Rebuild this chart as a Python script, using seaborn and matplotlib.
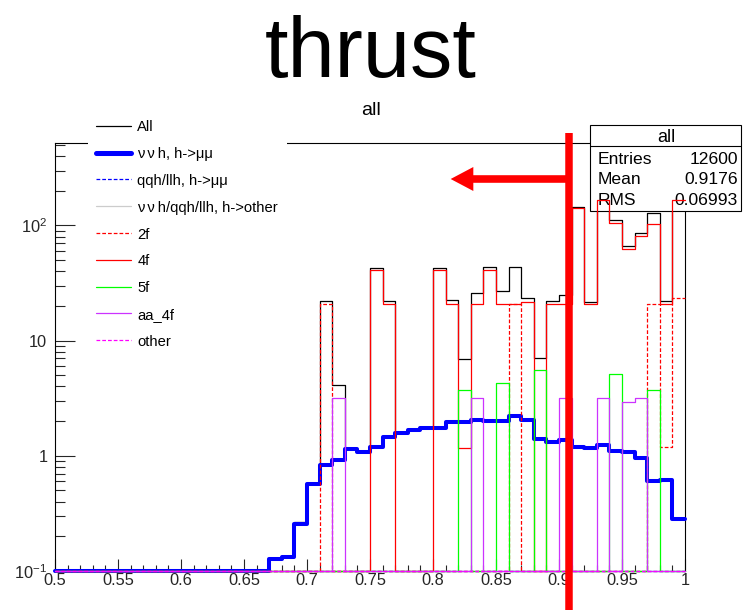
import numpy as np
import pandas as pd
import matplotlib
matplotlib.use("Agg")
import matplotlib.pyplot as plt
import seaborn as sns
from matplotlib.patches import Rectangle, Polygon
from matplotlib.lines import Line2D
from matplotlib.transforms import blended_transform_factory
from matplotlib.ticker import FixedLocator, FixedFormatter, MultipleLocator, LogLocator, NullFormatter

# ---------------------------------------------------------------- binning
bin_lo, bin_hi, n_bins = 0.5, 1.0, 50

# ---------------------------------------------------------------- yields per bin (lower edges 0.50 ... 0.99)
all_sm = [0, 0, 0, 0, 0, 0, 0, 0, 0, 0, 0, 0, 0, 0, 0, 0, 0,
          0.127, 0.131, 0.265, 0.571, 22.0, 4.12, 1.15, 1.08, 42.4, 22.0,
          1.58, 1.66, 1.76, 43.0, 22.5, 6.9, 25.8, 43.4, 26.9, 43.5,
          23.5, 7.0, 22.0, 25.1, 143.8, 21.8, 170.0, 112.0, 66.0, 85.6,
          128.0, 22.3, 190.0]
nnh_mumu = [0, 0, 0, 0, 0, 0, 0, 0, 0, 0, 0, 0, 0, 0, 0, 0, 0,
            0.127, 0.131, 0.255, 0.571, 0.83, 0.92, 1.15, 1.08, 1.20, 1.46,
            1.58, 1.66, 1.76, 1.74, 1.95, 1.95, 2.06, 2.01, 1.99, 2.23,
            2.04, 1.41, 1.33, 1.36, 1.19, 1.16, 1.24, 1.10, 1.08, 0.95,
            0.60, 0.62, 0.283]
qqh_llh_mumu = [0] * 50
higgs_other = [0] * 50
bkg_2f = [0, 0, 0, 0, 0, 0, 0, 0, 0, 0, 0, 0, 0, 0, 0, 0, 0,
          0, 0, 0, 0, 20.9, 0, 0, 0, 0, 0,
          0, 0, 0, 0, 0, 0, 0, 0, 0, 20.9,
          0, 0, 0, 0, 0, 0, 0, 0, 0, 0,
          21.0, 1.2, 23.5]
bkg_4f = [0, 0, 0, 0, 0, 0, 0, 0, 0, 0, 0, 0, 0, 0, 0, 0, 0,
          0, 0, 0, 0, 0, 0, 0, 0, 41.2, 20.6,
          0, 0, 0, 41.2, 20.6, 1.18, 20.6, 41.2, 20.6, 20.6,
          21.5, 0, 20.6, 20.6, 142.6, 20.6, 166.0, 106.0, 62.0, 81.5,
          102.0, 20.6, 166.0]
bkg_5f = [0, 0, 0, 0, 0, 0, 0, 0, 0, 0, 0, 0, 0, 0, 0, 0, 0,
          0, 0, 0, 0, 0, 0, 0, 0, 0, 0,
          0, 0, 0, 0, 0, 3.75, 0, 0, 4.29, 0,
          0, 5.6, 0, 0, 0, 0, 0, 5.13, 0, 0,
          3.75, 0, 0]
bkg_aa_4f = [0, 0, 0, 0, 0, 0, 0, 0, 0, 0, 0, 0, 0, 0, 0, 0, 0,
             0, 0, 0, 0, 0, 3.17, 0, 0, 0, 0,
             0, 0, 0, 0, 0, 0, 3.17, 0, 0, 0,
             0, 0, 0, 3.17, 0, 0, 3.17, 0, 2.93, 3.17,
             0, 0, 0]
bkg_other = [0] * 50

legend_labels = ["All",
                 "\u03bd\u2009\u03bd\u2009h, h->\u03bc\u03bc",
                 "qqh/llh, h->\u03bc\u03bc",
                 "\u03bd\u2009\u03bd\u2009h/qqh/llh, h->other",
                 "2f", "4f", "5f", "aa_4f", "other"]

x_ticks = [0.5, 0.55, 0.6, 0.65, 0.7, 0.75, 0.8, 0.85, 0.9, 0.95, 1.0]
x_tick_labels = ["0.5", "0.55", "0.6", "0.65", "0.7", "0.75", "0.8", "0.85", "0.9", "0.95", "1"]
y_ticks = [0.1, 1, 10, 100]
y_tick_labels = ["$10^{-1}$", "1", "10", "$10^{2}$"]

stats_rows = [("Entries", "12600"), ("Mean", "0.9176"), ("RMS", "0.06993")]
cut_value = 0.9083

# ---------------------------------------------------------------- style
sns.set_style("ticks")
plt.rcParams["font.family"] = ["Liberation Sans", "DejaVu Sans"]
plt.rcParams["mathtext.fontset"] = "custom"
plt.rcParams["mathtext.rm"] = "Liberation Sans"
plt.rcParams["mathtext.it"] = "Liberation Sans:italic"
plt.rcParams["mathtext.bf"] = "Liberation Sans:bold"
plt.rcParams["text.color"] = "black"

W, H = 743, 610
fig = plt.figure(figsize=(W / 100, H / 100), dpi=100)
fig.patch.set_facecolor("white")
ax = fig.add_axes([55 / W, 1 - 571 / H, 630 / W, 428 / H])
ax.set_facecolor("white")
ax.set_yscale("log")


def fx(px):
    return px / W


def fy(py):
    return 1 - py / H


edges = np.linspace(bin_lo, bin_hi, n_bins + 1)
centers = 0.5 * (edges[:-1] + edges[1:])
y_floor = 0.1
dash = (0, (3.0, 1.6))

series = [
    (all_sm, "black", 0.9, "-", 1.5),
    (nnh_mumu, "#0000ff", 2.9, "-", 2.0),
    (qqh_llh_mumu, "#0000ff", 0.9, dash, 2.1),
    (higgs_other, "#cccccc", 0.9, "-", 2.2),
    (bkg_2f, "#ff0000", 0.9, dash, 2.3),
    (bkg_4f, "#ff0000", 0.9, "-", 2.4),
    (bkg_5f, "#00ff00", 0.9, "-", 2.5),
    (bkg_aa_4f, "#cc33ff", 0.9, "-", 2.6),
    (bkg_other, "#ff00ff", 0.9, dash, 2.7),
]

for vals, color, lw, ls, z in series:
    # empty bins sit on the floor of the log axis
    frame = pd.DataFrame({"thrust": centers,
                          "w": np.maximum(np.asarray(vals, dtype=float), y_floor)})
    sns.histplot(data=frame, x="thrust", weights="w", bins=edges.tolist(),
                 element="step", fill=False, color=color, linewidth=lw,
                 linestyle=ls, zorder=z, ax=ax)

for line in ax.lines:
    line.set_clip_on(False)

ax.set_xlim(bin_lo, bin_hi)
ax.set_ylim(0.1, 520)
ax.set_xlabel("")
ax.set_ylabel("")

# ---------------------------------------------------------------- axes and ticks
for side, sp in ax.spines.items():
    sp.set_visible(True)
    sp.set_color("black")
    sp.set_linewidth(0.8)
    sp.set_zorder(1.0)

ax.xaxis.set_major_locator(FixedLocator(x_ticks))
ax.xaxis.set_major_formatter(FixedFormatter(x_tick_labels))
ax.xaxis.set_minor_locator(MultipleLocator(0.01))
ax.yaxis.set_major_locator(FixedLocator(y_ticks))
ax.yaxis.set_major_formatter(FixedFormatter(y_tick_labels))
ax.yaxis.set_minor_locator(LogLocator(base=10, subs=np.arange(2, 10)))
ax.yaxis.set_minor_formatter(NullFormatter())

ax.tick_params(axis="x", which="major", direction="in", length=8.6, width=0.8,
               bottom=True, top=False, labelsize=11.8, pad=1.5)
ax.tick_params(axis="x", which="minor", direction="in", length=4.3, width=0.8,
               bottom=True, top=False)
ax.tick_params(axis="y", which="major", direction="in", length=14.4, width=0.8,
               left=True, right=False, labelsize=11.8, pad=5.5)
ax.tick_params(axis="y", which="minor", direction="in", length=7.2, width=0.8,
               left=True, right=False)

# ---------------------------------------------------------------- titles
fig.text(fx(371), fy(77), "thrust", fontsize=61, ha="center", va="baseline")
fig.text(fx(371), fy(115), "all", fontsize=14, ha="center", va="baseline")

# ---------------------------------------------------------------- statistics box
ftr = fig.transFigure
box = Rectangle((fx(590), fy(211)), fx(741) - fx(590), fy(125) - fy(211),
                transform=ftr, facecolor="white", edgecolor="black", linewidth=0.8,
                zorder=1.8, clip_on=False)
ax.add_patch(box)
ax.add_line(Line2D([fx(590), fx(741)], [fy(146), fy(146)], transform=ftr,
                   color="black", linewidth=0.8, zorder=1.8, clip_on=False))
ax.text(fx(666), fy(142), "all", transform=ftr, fontsize=13, ha="center",
        va="baseline", zorder=1.9, clip_on=False)
for i, (name, value) in enumerate(stats_rows):
    base = 164.5 + 20 * i
    ax.text(fx(598), fy(base), name, transform=ftr, fontsize=12.6, ha="left",
            va="baseline", zorder=1.9, clip_on=False)
    ax.text(fx(738), fy(base), value, transform=ftr, fontsize=12.6, ha="right",
            va="baseline", zorder=1.9, clip_on=False)

# ---------------------------------------------------------------- legend
leg_bg = Rectangle((fx(88), fy(354)), fx(287) - fx(88), fy(112) - fy(354),
                   transform=ftr, facecolor="white", edgecolor="none",
                   zorder=5, clip_on=False)
ax.add_patch(leg_bg)
for i, (label, (vals, color, lw, ls, z)) in enumerate(zip(legend_labels, series)):
    yc = 125.8 + 26.8 * i
    ax.add_line(Line2D([fx(95.7), fx(131)], [fy(yc), fy(yc)], transform=ftr,
                       color=color, linewidth=lw * (1.25 if lw > 2 else 1.0),
                       linestyle=ls, zorder=6, clip_on=False))
    ax.text(fx(137.3), fy(yc + 5.6), label, transform=ftr, fontsize=10.6,
            ha="left", va="baseline", zorder=6, clip_on=False)

# ---------------------------------------------------------------- selection cut marker
bt = blended_transform_factory(ax.transData, ftr)
ax.add_line(Line2D([cut_value, cut_value], [fy(133), fy(610)], transform=bt,
                   color="#ff0000", linewidth=5.4, solid_capstyle="butt",
                   zorder=10, clip_on=False))
y_arrow = fy(179)
shaft = 3.8 / H
head = 12.0 / H
tip_x, base_x = 0.8140, 0.8320
arrow = Polygon([(cut_value, y_arrow + shaft), (base_x, y_arrow + shaft),
                 (base_x, y_arrow + head), (tip_x, y_arrow),
                 (base_x, y_arrow - head), (base_x, y_arrow - shaft),
                 (cut_value, y_arrow - shaft)],
                closed=True, transform=bt, facecolor="#ff0000", edgecolor="none",
                zorder=10, clip_on=False)
ax.add_patch(arrow)

fig.savefig("out.png", dpi=100)
